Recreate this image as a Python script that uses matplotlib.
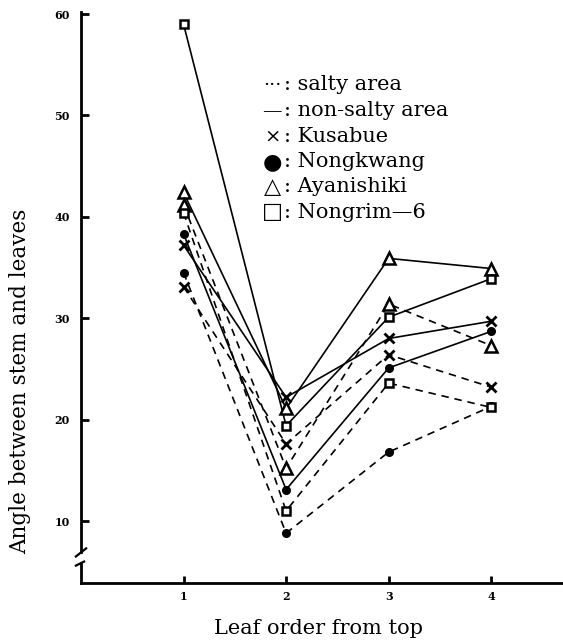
import matplotlib
matplotlib.use("Agg")
import matplotlib.pyplot as plt

# ---- data ----
leaf_order = [1, 2, 3, 4]
x_tick_labels = ["1", "2", "3", "4"]
y_ticks = [10, 20, 30, 40, 50, 60]

# non-salty area (solid lines)
kusabue_non = [37.2, 22.2, 28.0, 29.7]
nongkwang_non = [38.3, 13.1, 25.1, 28.7]
ayanishiki_non = [42.4, 21.1, 35.9, 34.9]
nongrim_non = [59.0, 19.4, 30.1, 33.9]
# salty area (dashed lines)
kusabue_salt = [33.1, 17.6, 26.4, 23.2]
nongkwang_salt = [34.5, 8.8, 16.8, 21.3]
ayanishiki_salt = [41.2, 15.2, 31.4, 27.3]
nongrim_salt = [40.4, 11.0, 23.6, 21.2]

legend_symbols = ["···", "—", "×", "●", "△", "□"]
legend_labels = [": salty area", ": non-salty area", ": Kusabue", ": Nongkwang",
                 ": Ayanishiki", ": Nongrim—6"]

SERIF = ["DejaVu Serif", "DejaVu Sans"]
plt.rcParams["font.family"] = SERIF

W, H = 563, 641
fig = plt.figure(figsize=(W / 100, H / 100), dpi=100)
left, right, top, bottom = 81, 563, 12, 583
ax = fig.add_axes([left / W, (H - bottom) / H, (right - left) / W, (bottom - top) / H])
ax.set_xlim(0, 4.70)
ax.set_ylim(3.886, 60.2)

dash = (0, (4.5, 3.5))
series = [
    (kusabue_non, "x", "-", dict(mfc="black", ms=6.5, mew=2.0)),
    (nongkwang_non, "o", "-", dict(mfc="black", ms=5.5, mew=1.0)),
    (ayanishiki_non, "^", "-", dict(mfc="white", ms=8, mew=1.8)),
    (nongrim_non, "s", "-", dict(mfc="white", ms=6, mew=1.8)),
    (kusabue_salt, "x", dash, dict(mfc="black", ms=6.5, mew=2.0)),
    (nongkwang_salt, "o", dash, dict(mfc="black", ms=5.5, mew=1.0)),
    (ayanishiki_salt, "^", dash, dict(mfc="white", ms=8, mew=1.8)),
    (nongrim_salt, "s", dash, dict(mfc="white", ms=6, mew=1.8)),
]
for vals, mk, ls, kw in series:
    ax.plot(leaf_order, vals, color="black", lw=1.2, ls=ls, zorder=2)
for vals, mk, ls, kw in series:
    ax.plot(leaf_order, vals, ls="none", marker=mk, mec="black", zorder=3, **kw)

# spines
for s in ["top", "right"]:
    ax.spines[s].set_visible(False)
ax.spines["left"].set_linewidth(2.0)
ax.spines["bottom"].set_linewidth(2.0)
ax.spines["left"].set_bounds(6.9, 60.2)
# lower segment of broken y axis
ax.plot([0, 0], [3.886, 5.9], color="black", lw=2.0, clip_on=False, zorder=4)
ax.plot([-0.05, 0.05], [6.5, 7.3], color="black", lw=1.6, clip_on=False, zorder=4)
ax.plot([-0.05, 0.03], [5.6, 6.0], color="black", lw=1.6, clip_on=False, zorder=4)

ax.set_xticks(leaf_order)
ax.set_xticklabels(x_tick_labels)
ax.set_yticks(y_ticks)
ax.set_yticklabels([str(v) for v in y_ticks])
ax.tick_params(axis="both", direction="in", width=2.0, labelsize=8)
ax.tick_params(axis="y", length=6, pad=8)
ax.tick_params(axis="x", length=5, pad=6)
for lbl in ax.get_xticklabels() + ax.get_yticklabels():
    lbl.set_fontweight("bold")

fig.text(20 / W, 1 - 381 / H, "Angle between stem and leaves", rotation=90,
         ha="center", va="center", fontsize=15.5)
fig.text(318 / W, 1 - 628 / H, "Leaf order from top", ha="center", va="center",
         fontsize=15)

# custom legend
row_y = [85, 111, 137, 162, 187, 212]
for sym, lab, yy in zip(legend_symbols, legend_labels, row_y):
    shape = sym in ("●", "△", "□")
    fig.text(272 / W, 1 - yy / H, sym, ha="center", va="center",
             fontsize=16 if shape else 14,
             family=["DejaVu Sans"] if shape else SERIF)
    fig.text(284 / W, 1 - yy / H, lab, ha="left", va="center", fontsize=15)

fig.savefig("out.png", dpi=100)
